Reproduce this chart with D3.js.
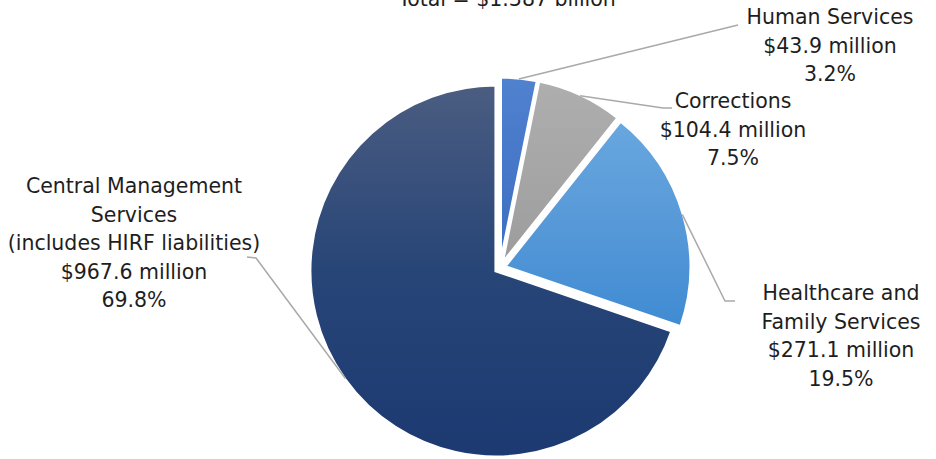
<!DOCTYPE html>
<html>
<head>
<meta charset="utf-8">
<script src="https://cdn.jsdelivr.net/npm/d3@7"></script>
<style>
  html, body { margin: 0; padding: 0; background: #fff; }
  svg { display: block; }
  text { font-family: "DejaVu Sans", sans-serif; fill: #1e1e1e; }
</style>
</head>
<body>
<script>
// Spending by agency, $ millions
const categories = ["Human Services", "Corrections", "Healthcare and Family Services", "Central Management Services"];
const amounts = [43.9, 104.4, 271.1, 967.6];
const shares = ["3.2%", "7.5%", "19.5%", "69.8%"];
const amountLabels = ["$43.9 million", "$104.4 million", "$271.1 million", "$967.6 million"];
const nameLines = [
  ["Human Services"],
  ["Corrections"],
  ["Healthcare and", "Family Services"],
  ["Central Management", "Services", "(includes HIRF liabilities)"]
];
const title = "Total = $1.387 billion";

// Slice colours (top, bottom of each vertical gradient)
const gradTop = ["#5082d0", "#aeaeae", "#68a7df", "#4b5d81"];
const gradMid = ["#4677c8", "#a6a6a6", "#5799d8", "#274577"];
const gradBot = ["#3c6ec2", "#9c9c9c", "#3f8bd2", "#1c3a71"];

const W = 936, H = 459;
const cx = 500, cy = 268, R = 186, explode = 5;

// Label block placement: centre x, first baseline, leader elbow and end
const labelLayout = [
  { x: 830, y: 24, elbow: [738, 25], end: [738, 25] },
  { x: 733, y: 108, elbow: [663, 108], end: [672, 108] },
  { x: 841, y: 300, elbow: [725, 301], end: [735, 301] },
  { x: 134, y: 193, elbow: [256, 258], end: [247, 257] }
];
const lineStep = 28.5;

const svg = d3.select("body").append("svg")
  .attr("width", W).attr("height", H);

const defs = svg.append("defs");
categories.forEach((c, i) => {
  const g = defs.append("linearGradient")
    .attr("id", "grad" + i)
    .attr("x1", 0).attr("y1", 0).attr("x2", 0).attr("y2", 1);
  g.append("stop").attr("offset", "0%").attr("stop-color", gradTop[i]);
  g.append("stop").attr("offset", "50%").attr("stop-color", gradMid[i]);
  g.append("stop").attr("offset", "100%").attr("stop-color", gradBot[i]);
});

const pie = d3.pie().sort(null).value(d => d);
const arcs = pie(amounts);
const arc = d3.arc().innerRadius(0).outerRadius(R);

const offsetOf = d => {
  const a = (d.startAngle + d.endAngle) / 2;
  return [Math.sin(a) * explode, -Math.cos(a) * explode];
};

const pieG = svg.append("g").attr("transform", `translate(${cx},${cy})`);

pieG.selectAll("path.slice")
  .data(arcs)
  .join("path")
  .attr("class", "slice")
  .attr("transform", d => { const o = offsetOf(d); return `translate(${o[0]},${o[1]})`; })
  .attr("d", arc)
  .attr("fill", (d, i) => `url(#grad${i})`)
  .attr("stroke", "#fff")
  .attr("stroke-width", 3)
  .attr("stroke-linejoin", "miter");

// Leader lines from slice rim to label
arcs.forEach((d, i) => {
  const a = (d.startAngle + d.endAngle) / 2;
  const o = offsetOf(d);
  const sx = cx + o[0] + Math.sin(a) * (R - 1);
  const sy = cy + o[1] - Math.cos(a) * (R - 1);
  const L = labelLayout[i];
  svg.append("polyline")
    .attr("points", [[sx, sy], L.elbow, L.end].map(p => p.join(",")).join(" "))
    .attr("fill", "none")
    .attr("stroke", "#a9a9a9")
    .attr("stroke-width", 1.5);
});

// Label blocks
categories.forEach((c, i) => {
  const L = labelLayout[i];
  const lines = nameLines[i].concat([amountLabels[i], shares[i]]);
  const t = svg.append("text")
    .attr("text-anchor", "middle")
    .attr("font-size", "20.5px");
  lines.forEach((s, k) => {
    t.append("tspan").attr("x", L.x).attr("y", L.y + k * lineStep).text(s);
  });
});

svg.append("text")
  .attr("x", 507).attr("y", 6)
  .attr("text-anchor", "middle")
  .attr("font-size", "20.5px")
  .text(title);
</script>
</body>
</html>
